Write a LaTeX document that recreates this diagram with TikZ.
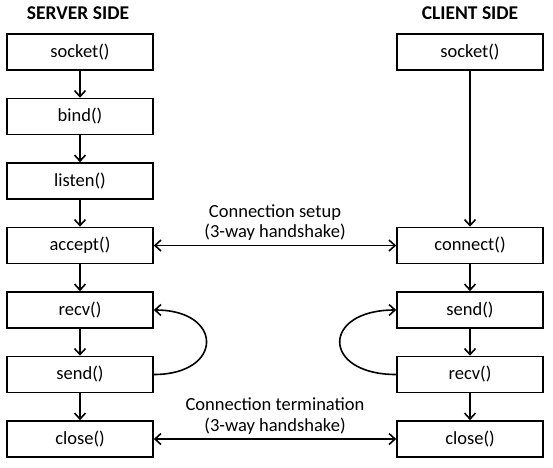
\documentclass[tikz,border=0pt]{standalone}
\usepackage{fontspec}
\setmainfont{Carlito}
\usetikzlibrary{positioning,arrows.meta}

\begin{document}
\begin{tikzpicture}
[x=1pt, y=-1pt, node distance=26.9pt and 242.4pt,
block/.style ={rectangle, draw=black, line width=1.6pt,
minimum width=146pt, minimum height=36pt,
font=\fontsize{18.5}{21}\selectfont},
head/.style ={font=\fontsize{19.5}{22}\selectfont\bfseries},
note/.style ={align=center, font=\fontsize{18.5}{20.5}\selectfont, inner sep=4pt},
flow/.style ={line width=1.6pt, -{Straight Barb[length=6pt,width=11pt]}},
both/.style ={line width=1.6pt, {Straight Barb[length=6pt,width=11pt]}-{Straight Barb[length=6pt,width=11pt]}}]

\useasboundingbox (0,0) rectangle (553,467);

% headings
\node (server) [head] at (78,13) {SERVER SIDE};
\node (client) [head] at (470,13) {CLIENT SIDE};

% server side
\node (ssocket) [block] at (80,52) {socket()};
\node (bind) [block, below=of ssocket] {bind()};
\node (listen) [block, below=of bind] {listen()};
\node (accept) [block, below=of listen] {accept()};
\node (srecv) [block, below=of accept] {recv()};
\node (ssend) [block, below=of srecv] {send()};
\node (sclose) [block, below=of ssend] {close()};

% client side
\node (csocket) [block] at (470,52) {socket()};
\node (connect) [block, right=of accept] {connect()};
\node (csend) [block, right=of srecv] {send()};
\node (crecv) [block, right=of ssend] {recv()};
\node (cclose) [block, right=of sclose] {close()};

\draw[flow] (ssocket) -- (bind);
\draw[flow] (bind) -- (listen);
\draw[flow] (listen) -- (accept);
\draw[flow] (accept) -- (srecv);
\draw[flow] (srecv) -- (ssend);
\draw[flow] (ssend) -- (sclose);
\draw[flow] (ssend.east) .. controls +(70,0) and +(70,0) .. (srecv.east);

\draw[flow] (csocket) -- (connect);
\draw[flow] (connect) -- (csend);
\draw[flow] (csend) -- (crecv);
\draw[flow] (crecv) -- (cclose);
\draw[flow] (crecv.west) .. controls +(-75,0) and +(-75,0) .. (csend.west);

\draw[both] (accept) -- node[note, above] {Connection setup\\(3-way handshake)} (connect);
\draw[both] (sclose) -- node[note, above] {Connection termination\\(3-way handshake)} (cclose);
\end{tikzpicture}
\end{document}
